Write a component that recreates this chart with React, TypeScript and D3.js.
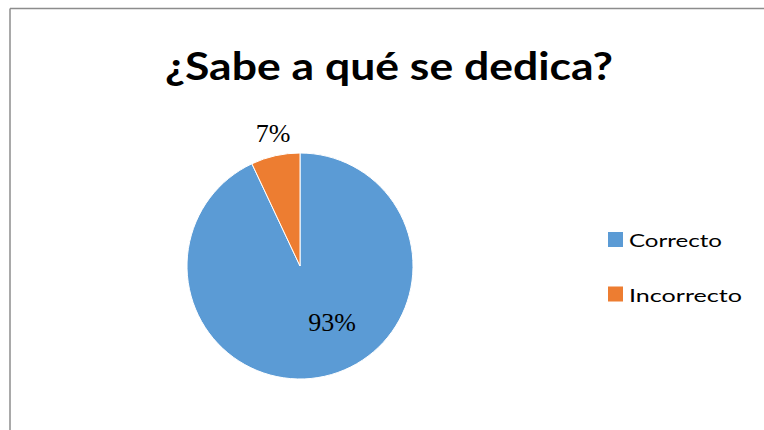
import React, { useEffect } from "react";
import * as d3 from "d3";

const categories = ["Correcto", "Incorrecto"];
const values = [93, 7];
const labels = ["93%", "7%"];
const colors = ["#5B9BD5", "#ED7D31"];

export default function App() {
  useEffect(() => {
    document.body.style.margin = "0";
    document.body.style.overflow = "hidden";
  }, []);
  const width = 764;
  const height = 430;
  const cx = 300;
  const cy = 266;
  const r = 113;
  const pie = d3.pie<number>().sort(null).value((d) => d);
  const arcs = pie(values);
  const arc = d3.arc<d3.PieArcDatum<number>>().innerRadius(0).outerRadius(r);
  const labelPos = [
    [32, 65],
    [-27, -124],
  ];
  const legendWidths = [93, 113];
  return (
    <svg
      width={width}
      height={height}
      style={{ position: "absolute", left: 0, top: 0, display: "block" }}
    >
      <rect x={0} y={0} width={width} height={height} fill="#fff" />
      <line x1={10} y1={8.5} x2={width} y2={8.5} stroke="#8c8c8c" strokeWidth={1.5} />
      <line x1={10} y1={8.5} x2={10} y2={height} stroke="#8c8c8c" strokeWidth={1.5} />
      <text
        x={165}
        y={80}
        textLength={448}
        lengthAdjust="spacingAndGlyphs"
        fontFamily="Lato, 'Open Sans', sans-serif"
        fontWeight="bold"
        fontSize={39}
        fill="#000"
      >
        ¿Sabe a qué se dedica?
      </text>
      <g transform={`translate(${cx},${cy})`}>
        {arcs.map((a, i) => (
          <path key={i} d={arc(a) || ""} fill={colors[i]} stroke="#fff" strokeWidth={1} />
        ))}
        {arcs.map((a, i) => (
          <text
            key={"l" + i}
            x={labelPos[i][0]}
            y={labelPos[i][1]}
            textAnchor="middle"
            fontFamily="'Liberation Serif', 'Times New Roman', serif"
            fontSize={26}
            fill="#000"
          >
            {labels[i]}
          </text>
        ))}
      </g>
      {categories.map((c, i) => (
        <g key={c} transform={`translate(608,${247 + i * 54.5})`}>
          <rect x={0} y={-15} width={15} height={15} fill={colors[i]} />
          <text
            x={21}
            y={0}
            textLength={legendWidths[i]}
            lengthAdjust="spacingAndGlyphs"
            fontFamily="Lato, 'Open Sans', sans-serif"
            fontSize={18}
            fill="#000"
          >
            {c}
          </text>
        </g>
      ))}
    </svg>
  );
}
